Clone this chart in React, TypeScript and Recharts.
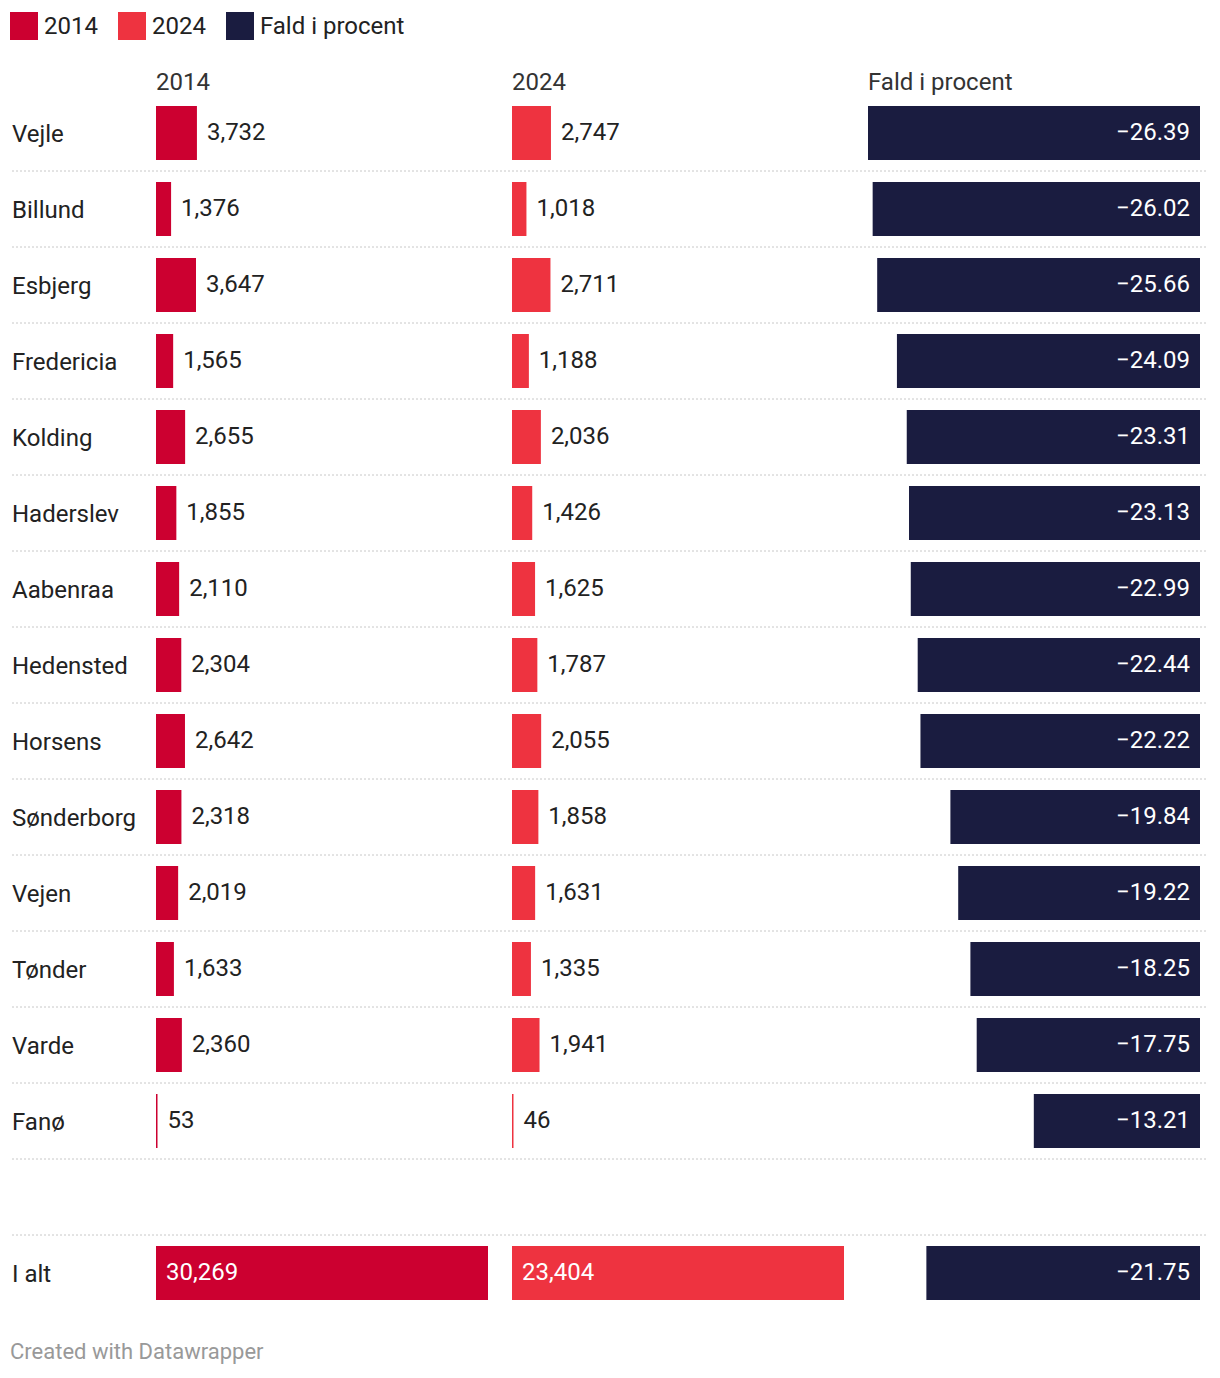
import React from 'react';
import { Bar, BarChart, CartesianGrid, LabelList, XAxis, YAxis } from 'recharts';

const municipalities = [
  'Vejle', 'Billund', 'Esbjerg', 'Fredericia', 'Kolding', 'Haderslev', 'Aabenraa',
  'Hedensted', 'Horsens', 'Sønderborg', 'Vejen', 'Tønder', 'Varde', 'Fanø',
];
const values2014 = [3732, 1376, 3647, 1565, 2655, 1855, 2110, 2304, 2642, 2318, 2019, 1633, 2360, 53];
const values2024 = [2747, 1018, 2711, 1188, 2036, 1426, 1625, 1787, 2055, 1858, 1631, 1335, 1941, 46];
const dropPct = [-26.39, -26.02, -25.66, -24.09, -23.31, -23.13, -22.99, -22.44, -22.22, -19.84, -19.22, -18.25, -17.75, -13.21];

const totalLabel = 'I alt';
const total2014 = 30269;
const total2024 = 23404;
const totalDrop = -21.75;

const COLORS = {
  y2014: '#cc0030',
  y2024: '#ee3340',
  drop: '#1a1c40',
};

const FONT = 'Roboto, sans-serif';
const TEXT = '#222222';

const WIDTH = 1220;
const HEIGHT = 1378;
const MARGIN = { top: 95, right: 12, bottom: 67, left: 12 };
const PLOT_W = WIDTH - MARGIN.left - MARGIN.right;
// each column: where its zero sits inside the plot and how wide the longest bar is
const COL_W = 332;
const ZERO_2014 = 144;
const ZERO_2024 = 500;
const ZERO_DROP = 1188;

const rows = municipalities.map((name, i) => ({
  name,
  v2014: values2014[i],
  v2024: values2024[i],
  drop: dropPct[i],
}));
const data = [
  ...rows,
  { name: '', v2014: null, v2024: null, drop: null },
  { name: totalLabel, v2014: total2014, v2024: total2024, drop: totalDrop },
];
const byName = new Map(data.map((d) => [d.name, d]));

const max2014 = Math.max(...data.map((d) => d.v2014 ?? 0));
const max2024 = Math.max(...data.map((d) => d.v2024 ?? 0));
const maxDrop = Math.max(...data.map((d) => Math.abs(d.drop ?? 0)));

const domainFor = (zero: number, max: number): [number, number] => [
  (-zero / COL_W) * max,
  ((PLOT_W - zero) / COL_W) * max,
];

const fmtInt = (v: number) => v.toLocaleString('en-US');
const fmtPct = (v: number) => v.toFixed(2).replace('-', '\u2212');

const RowTick = ({ y, payload }: any) => (
  <text x={12} y={y + 1} dominantBaseline="central" fill={TEXT} fontSize={24} fontFamily={FONT}>
    {payload.value}
  </text>
);

// LabelList is keyed on the row name so the row can be looked up whatever index it gets
const makeCountLabel = (key: 'v2014' | 'v2024') => (props: any) => {
  const { x, y, width, height, value: name } = props;
  const row = byName.get(name);
  const value = row?.[key];
  if (value == null) return null;
  const isTotal = name === totalLabel;
  return (
    <text
      x={isTotal ? x + 10 : x + width + 10}
      y={y + height / 2 - 1}
      dominantBaseline="central"
      fill={isTotal ? '#ffffff' : TEXT}
      fontSize={24}
      fontFamily={FONT}
    >
      {fmtInt(value)}
    </text>
  );
};

const DropLabel = (props: any) => {
  const { x, y, width, height, value: name } = props;
  const value = byName.get(name)?.drop;
  if (value == null) return null;
  const right = Math.max(x, x + width);
  return (
    <text
      x={right - 10}
      y={y + height / 2 - 1}
      textAnchor="end"
      dominantBaseline="central"
      fill="#ffffff"
      fontSize={24}
      fontFamily={FONT}
    >
      {fmtPct(value)}
    </text>
  );
};

const legendItems = [
  { label: '2014', color: COLORS.y2014 },
  { label: '2024', color: COLORS.y2024 },
  { label: 'Fald i procent', color: COLORS.drop },
];

const headers = [
  { label: '2014', left: MARGIN.left + ZERO_2014 },
  { label: '2024', left: MARGIN.left + ZERO_2024 },
  { label: 'Fald i procent', left: MARGIN.left + ZERO_DROP - COL_W },
];

export default function App() {
  const rowCount = data.length;
  return (
    <div
      style={{
        position: 'absolute',
        left: 0,
        top: 0,
        width: WIDTH,
        height: HEIGHT,
        background: '#ffffff',
        fontFamily: FONT,
        color: TEXT,
      }}
    >
      <div style={{ position: 'absolute', left: 10, top: 12, display: 'flex', alignItems: 'center' }}>
        {legendItems.map((item) => (
          <div key={item.label} style={{ display: 'flex', alignItems: 'center', marginRight: 20 }}>
            <span style={{ width: 28, height: 28, background: item.color, display: 'inline-block', marginRight: 6 }} />
            <span style={{ fontSize: 24, lineHeight: '28px' }}>{item.label}</span>
          </div>
        ))}
      </div>

      {headers.map((h) => (
        <div
          key={h.label}
          style={{ position: 'absolute', left: h.left, top: 70, fontSize: 24, lineHeight: '24px', color: '#333333' }}
        >
          {h.label}
        </div>
      ))}

      <div style={{ position: 'absolute', left: 0, top: 0 }}>
        <BarChart width={WIDTH} height={HEIGHT} data={data} layout="vertical" margin={MARGIN} barCategoryGap={11}>
          <CartesianGrid
            xAxisId="x2014"
            yAxisId="names"
            vertical={false}
            stroke="#c8c8c8"
            strokeDasharray="2 2"
            horizontalCoordinatesGenerator={({ offset }: any) =>
              Array.from({ length: rowCount - 1 }, (_, i) => offset.top + ((i + 1) * offset.height) / rowCount)
            }
          />
          <XAxis xAxisId="x2014" type="number" hide domain={domainFor(ZERO_2014, max2014)} allowDataOverflow />
          <XAxis xAxisId="x2024" type="number" hide domain={domainFor(ZERO_2024, max2024)} allowDataOverflow />
          <XAxis xAxisId="xDrop" type="number" hide domain={domainFor(ZERO_DROP, maxDrop)} allowDataOverflow />
          <YAxis
            yAxisId="names"
            type="category"
            dataKey="name"
            mirror
            axisLine={false}
            tickLine={false}
            tick={<RowTick />}
            interval={0}
          />
          <YAxis yAxisId="b" type="category" dataKey="name" hide />
          <YAxis yAxisId="c" type="category" dataKey="name" hide />
          <Bar
            dataKey="v2014"
            xAxisId="x2014"
            yAxisId="names"
            fill={COLORS.y2014}
            barSize={54}
            minPointSize={1.5}
            isAnimationActive={false}
          >
            <LabelList dataKey="name" content={makeCountLabel('v2014')} />
          </Bar>
          <Bar
            dataKey="v2024"
            xAxisId="x2024"
            yAxisId="b"
            fill={COLORS.y2024}
            barSize={54}
            minPointSize={1.5}
            isAnimationActive={false}
          >
            <LabelList dataKey="name" content={makeCountLabel('v2024')} />
          </Bar>
          <Bar dataKey="drop" xAxisId="xDrop" yAxisId="c" fill={COLORS.drop} barSize={54} isAnimationActive={false}>
            <LabelList dataKey="name" content={DropLabel} />
          </Bar>
        </BarChart>
      </div>

      <div style={{ position: 'absolute', left: 10, top: 1340, fontSize: 22, lineHeight: '24px', color: '#999999' }}>
        Created with Datawrapper
      </div>
    </div>
  );
}
